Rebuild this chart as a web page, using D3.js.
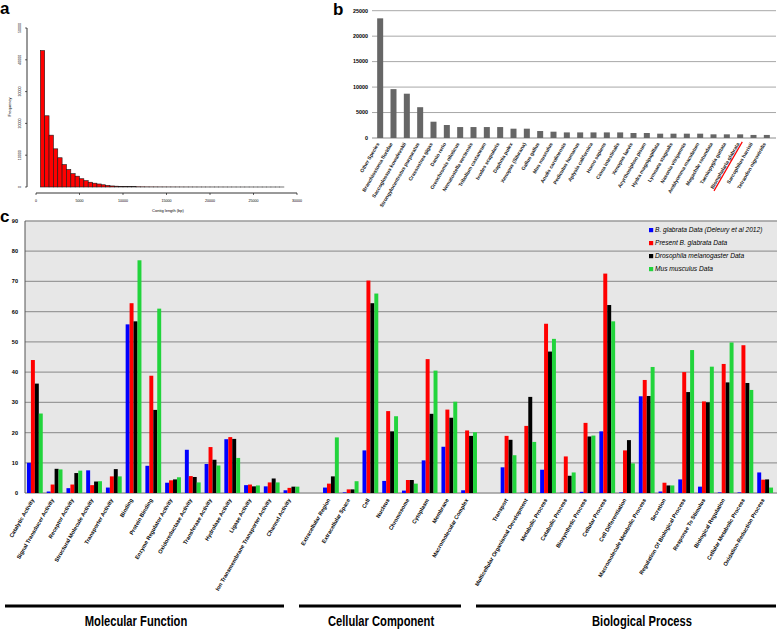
<!DOCTYPE html>
<html>
<head>
<meta charset="utf-8">
<script src="https://cdn.jsdelivr.net/npm/d3@7"></script>
<style>
  body { margin: 0; background: #fff; }
  text { font-family: "Liberation Sans", Arial, sans-serif; }
</style>
</head>
<body>
<svg id="fig" width="778" height="629"></svg>
<script>
// ---------- data: panel a (contig length histogram, 500 bp bins from 500 bp) ----------
var binStart = 500, binWidth = 500;
var contigCounts = [42900, 22400, 16300, 12000, 9200, 7050, 5500, 4200, 3400, 2600,
  2000, 1500, 1200, 950, 700, 500, 330, 260, 210, 170, 130, 100, 80, 60,
  45, 40, 35, 30, 28, 25, 22, 20, 18, 16, 15, 14, 12, 10, 10, 9,
  8, 8, 7, 6, 6, 5, 5, 4, 4, 3, 3, 3, 2, 2, 2, 1];
var histYTicks = [0, 10000, 20000, 30000, 40000, 50000];
var histXTicks = [0, 5000, 10000, 15000, 20000, 25000, 30000];

// ---------- data: panel b (top hit species) ----------
var species = ["Other Species", "Branchiostoma floridae", "Saccoglossus kowalevskii",
  "Strongylocentrotus purpuratus", "Crassostrea gigas", "Danio rerio", "Oreochromis niloticus",
  "Nematostella vectensis", "Tribolium castaneum", "Ixodes scapularis", "Daphnia pulex",
  "Xenopus (Silurana)", "Gallus gallus", "Mus musculus", "Anolis carolinensis",
  "Pediculus humanus", "Aplysia californica", "Homo sapiens", "Ciona intestinalis",
  "Xenopus laevis", "Acyrthosiphon pisum", "Hydra magnipapillata", "Lymnaea stagnalis",
  "Nasonia vitripennis", "Amblyomma maculatum", "Megachile rotundata", "Taeniopygia guttata",
  "Biomphalaria glabrata", "Sarcophilus harrisii", "Tetraodon nigroviridis"];
var speciesHits = [23500, 9600, 8700, 6050, 3200, 2550, 2150, 2150, 2150, 2150, 1830,
  1830, 1370, 1240, 1100, 1100, 1100, 1100, 1100, 980, 980, 850, 850, 850, 850,
  720, 720, 720, 600, 600];
var highlightSpecies = "Biomphalaria glabrata";
var hitTicks = [0, 5000, 10000, 15000, 20000, 25000];

// ---------- data: panel c (GO term percentages) ----------
var mfTerms = ["Catalytic Activity", "Signal Transducer Activity", "Receptor Activity",
  "Structural Molecule Activity", "Transporter Activity", "Binding", "Protein Binding",
  "Enzyme Regulator Activity", "Oxidoreductase Activity", "Transferase Activity",
  "Hydrolase Activity", "Ligase Activity", "Ion Transmembrane Transporter Activity",
  "Channel Activity"];
var ccTerms = ["Extracellular Region", "Extracellular Space", "Cell", "Nucleus", "Chromosome",
  "Cytoplasm", "Membrane", "Macromolecular Complex"];
var bpTerms = ["Transport", "Multicellular Organismal Development", "Metabolic Process",
  "Catabolic Process", "Biosynthetic Process", "Cellular Process", "Cell Differentiation",
  "Macromolecule Metabolic Process", "Secretion", "Regulation Of Biological Process",
  "Response To Stimulus", "Biological Regulation", "Cellular Metabolic Process",
  "Oxidation-Reduction Process"];
var ontologies = ["Molecular Function", "Cellular Component", "Biological Process"];
var seriesNames = ["B. glabrata Data (Deleury et al 2012)", "Present B. glabrata Data",
  "Drosophila melanogaster Data", "Mus musculus Data"];
var seriesColors = ["#0000ff", "#ff0000", "#000000", "#22d43c"];
// values in order mfTerms, ccTerms, bpTerms
var bgDeleury = [10, 0.5, 1.6, 7.5, 1.8, 55.8, 9, 3.4, 14.3, 9.6, 17.8, 2.6, 2.2, 0.9,
  1.8, 0.2, 14.1, 4, 0.8, 10.8, 15.3, 0.9,
  8.5, 0.1, 7.7, 0.1, 0.4, 20.4, 0.2, 32, 0.5, 4.5, 2.1, 0.2, 0.2, 6.8];
var bgPresent = [44, 2.8, 2.8, 2.6, 5.5, 62.8, 38.8, 4.2, 5.6, 15.2, 18.5, 2.8, 3.5, 1.7,
  3.1, 1.2, 70.3, 27.1, 4.3, 44.3, 27.6, 20.7,
  18.9, 22.2, 56, 12.1, 23.2, 72.6, 14.1, 37.4, 3.4, 40, 30.3, 42.7, 48.9, 4.4];
var drosophila = [36.2, 8, 6.6, 3.8, 7.9, 56.8, 27.5, 4.5, 5.3, 11, 17.9, 2.2, 4.8, 2.1,
  5.5, 1.2, 62.8, 20.4, 4.3, 26.2, 24.9, 18.9,
  17.6, 31.8, 46.8, 5.7, 18.7, 62.2, 17.5, 32.1, 2.5, 33.4, 30, 36.6, 36.4, 4.5];
var musculus = [26.3, 7.8, 7.4, 3.9, 5.5, 77, 61, 5.2, 3.5, 9.1, 11.6, 2.5, 3.5, 2.1,
  18.4, 3.9, 66, 25.4, 3.1, 40.5, 30.2, 20.1,
  12.5, 16.9, 51, 6.8, 19, 56.8, 9.8, 41.7, 2.5, 47.3, 41.8, 49.8, 34.1, 1.8];
var pctTicks = [0, 10, 20, 30, 40, 50, 60, 70, 80, 90];

var svg = d3.select("#fig");

function panelLetter(x, y, t) {
  svg.append("text").attr("x", x).attr("y", y).text(t)
    .style("font-size", "17px").style("font-weight", "bold");
}

// ===================== panel a =====================
panelLetter(0, 14, "a");
var ax = d3.scaleLinear().domain([0, 30000]).range([36, 297]);
var ay = d3.scaleLinear().domain([0, 50000]).range([187, 28]);
var ga = svg.append("g");
ga.selectAll("rect.h").data(contigCounts).enter().append("rect")
  .attr("x", function (d, i) { return ax(binStart + i * binWidth); })
  .attr("width", ax(binWidth) - ax(0))
  .attr("y", function (d) { return ay(d); })
  .attr("height", function (d) { return ay(0) - ay(d); })
  .attr("fill", "#ff0000").attr("stroke", "#1a1a1a").attr("stroke-width", 0.6);
// y axis (R style, detached)
ga.append("line").attr("x1", 27).attr("x2", 27).attr("y1", ay(0)).attr("y2", ay(50000))
  .attr("stroke", "#000").attr("stroke-width", 0.8);
histYTicks.forEach(function (t) {
  ga.append("line").attr("x1", 25).attr("x2", 27).attr("y1", ay(t)).attr("y2", ay(t))
    .attr("stroke", "#000").attr("stroke-width", 0.6);
  ga.append("text").attr("transform", "translate(21," + ay(t) + ") rotate(-90)")
    .attr("text-anchor", "middle").style("font-size", "3.6px").text(t);
});
ga.append("text").attr("transform", "translate(11,107) rotate(-90)")
  .attr("text-anchor", "middle").style("font-size", "4px").text("Frequency");
ga.append("line").attr("x1", ax(0)).attr("x2", ax(30000)).attr("y1", 193).attr("y2", 193)
  .attr("stroke", "#000").attr("stroke-width", 0.8);
histXTicks.forEach(function (t) {
  ga.append("line").attr("x1", ax(t)).attr("x2", ax(t)).attr("y1", 193).attr("y2", 195)
    .attr("stroke", "#000").attr("stroke-width", 0.6);
  ga.append("text").attr("x", ax(t)).attr("y", 202).attr("text-anchor", "middle")
    .style("font-size", "3.6px").text(t);
});
ga.append("text").attr("x", 168).attr("y", 212).attr("text-anchor", "middle")
  .style("font-size", "4px").text("Contig length (bp)");

// ===================== panel b =====================
panelLetter(333, 15, "b");
var bx = d3.scaleBand().domain(species).range([373.5, 773.5]).paddingInner(0.55).paddingOuter(0.275);
var by = d3.scaleLinear().domain([0, 25000]).range([138, 10.7]);
var gb = svg.append("g");
hitTicks.forEach(function (t) {
  gb.append("line").attr("x1", 372).attr("x2", 776).attr("y1", by(t)).attr("y2", by(t))
    .attr("stroke", t === 0 ? "#8c8c8c" : "#a8a8a8").attr("stroke-width", 1);
  gb.append("text").attr("x", 368).attr("y", by(t) + 1.8).attr("text-anchor", "end")
    .style("font-size", "5.4px").style("font-weight", "bold").text(t);
});
gb.selectAll("rect.s").data(speciesHits).enter().append("rect")
  .attr("x", function (d, i) { return bx(species[i]); })
  .attr("width", bx.bandwidth())
  .attr("y", function (d) { return by(d); })
  .attr("height", function (d) { return by(0) - by(d); })
  .attr("fill", "#666666");
species.forEach(function (s) {
  var cx = bx(s) + bx.bandwidth() / 2 - 2;
  var g = gb.append("g").attr("transform", "translate(" + cx + ",143) rotate(-60)");
  var t = g.append("text").attr("text-anchor", "end").attr("y", 1.6)
    .style("font-size", "5px").style("font-weight", "bold").style("fill", "#1a1a1a").text(s);
  if (s === highlightSpecies) {
    var w = t.node().getComputedTextLength();
    g.append("line").attr("x1", -w - 1).attr("x2", 3).attr("y1", 3).attr("y2", 3)
      .attr("stroke", "#ff0000").attr("stroke-width", 1.2);
  }
});

// ===================== panel c =====================
panelLetter(0, 222, "c");
var slots = mfTerms.concat(["_gap1"], ccTerms, ["_gap2"], bpTerms);
var terms = mfTerms.concat(ccTerms, bpTerms);
var cx0 = d3.scaleBand().domain(slots).range([25, 775]).paddingInner(0.2).paddingOuter(0.1);
var cx1 = d3.scaleBand().domain(d3.range(seriesNames.length)).range([0, cx0.bandwidth()]);
var cy = d3.scaleLinear().domain([0, 90]).range([493, 221]);
var gc = svg.append("g");
gc.append("rect").attr("x", 25).attr("y", cy(90)).attr("width", 752).attr("height", cy(0) - cy(90))
  .attr("fill", "#e7e7e7");
pctTicks.forEach(function (t) {
  gc.append("line").attr("x1", 25).attr("x2", 777).attr("y1", cy(t)).attr("y2", cy(t))
    .attr("stroke", "#9a9a9a").attr("stroke-width", 1.3);
  gc.append("text").attr("x", 18).attr("y", cy(t) + 2).attr("text-anchor", "end")
    .style("font-size", "5.6px").style("font-weight", "bold").text(t);
});
gc.append("line").attr("x1", 25).attr("x2", 25).attr("y1", cy(90)).attr("y2", cy(0))
  .attr("stroke", "#555").attr("stroke-width", 1);

var seriesValues = [bgDeleury, bgPresent, drosophila, musculus];
seriesValues.forEach(function (vals, si) {
  gc.selectAll("rect.s" + si).data(vals).enter().append("rect")
    .attr("x", function (d, i) { return cx0(terms[i]) + cx1(si); })
    .attr("width", cx1.bandwidth())
    .attr("y", function (d) { return cy(d); })
    .attr("height", function (d) { return cy(0) - cy(d); })
    .attr("fill", seriesColors[si]);
});

// x labels
terms.forEach(function (t) {
  var px = cx0(t) + cx0.bandwidth() / 2 - 2;
  gc.append("text").attr("transform", "translate(" + px + ",499) rotate(-60)")
    .attr("text-anchor", "end").attr("y", 1.8)
    .style("font-size", "5.5px").style("font-weight", "bold").text(t);
});

// legend
seriesNames.forEach(function (n, i) {
  var ly = 232 + i * 13;
  gc.append("rect").attr("x", 649).attr("y", ly - 4).attr("width", 4.2).attr("height", 4.2)
    .attr("fill", seriesColors[i]);
  gc.append("text").attr("x", 655).attr("y", ly).style("font-size", "6.6px")
    .style("font-style", "italic").text(n);
});

// ontology brackets
var bracketLayout = [[5, 284, 136], [299, 461, 381], [476, 776, 642]];
ontologies.forEach(function (o, i) {
  var b = bracketLayout[i];
  gc.append("line").attr("x1", b[0]).attr("x2", b[1]).attr("y1", 606).attr("y2", 606)
    .attr("stroke", "#000").attr("stroke-width", 3);
  gc.append("text").attr("transform", "translate(" + b[2] + ",626) scale(0.8,1)")
    .attr("text-anchor", "middle")
    .style("font-size", "14px").style("font-weight", "bold").text(o);
});
</script>
</body>
</html>
